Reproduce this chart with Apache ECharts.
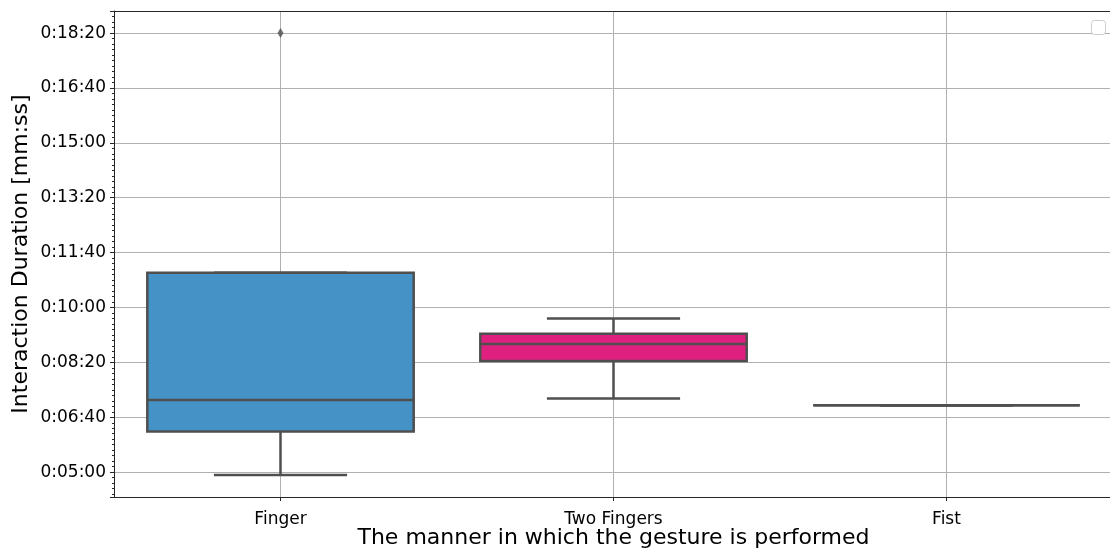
<!DOCTYPE html>
<html>
<head>
<meta charset="utf-8">
<script src="https://cdn.jsdelivr.net/npm/echarts@6/dist/echarts.min.js"></script>
<style>
  html, body { margin: 0; padding: 0; background: #fff; }
  #chart { width: 1110px; height: 550px; }
</style>
</head>
<body>
<div id="chart"></div>
<script>
// categories along the x axis
const categories = ['Finger', 'Two Fingers', 'Fist']
// box stats in seconds: [min, Q1, median, Q3, max]
const fingerStats = [295, 374, 431.5, 663.5, 663.5]
const twoFingersStats = [434, 502.5, 533.5, 552, 580]
const fistStats = [422, 422, 422, 422, 422]
// outliers: [category index, seconds]
const outliers = [[0, 1100]]
const boxColors = ['#4592c6', '#e0207f']
const yTicks = [300, 1100] // 0:05:00 .. 0:18:20

const pad = (n) => String(n).padStart(2, '0')
const fmtTime = (v) => {
  const s = Math.round(v)
  return `${Math.floor(s / 3600)}:${pad(Math.floor((s % 3600) / 60))}:${pad(s % 60)}`
}

const boxData = [fingerStats, twoFingersStats, fistStats].map((s, i) => [i, ...s])
const lineColor = '#4f4f4f'
const spineColor = '#262626'

const chart = echarts.init(document.getElementById('chart'))

// draw one seaborn-like box
const renderBox = (params, api) => {
  const idx = api.value(0)
  const bandW = api.size([1, 0])[0]
  const boxW = bandW * 0.8
  const capW = boxW / 2
  const x = api.coord([idx, 0])[0]
  const yMin = api.coord([idx, api.value(1)])[1]
  const yQ1 = api.coord([idx, api.value(2)])[1]
  const yMed = api.coord([idx, api.value(3)])[1]
  const yQ3 = api.coord([idx, api.value(4)])[1]
  const yMax = api.coord([idx, api.value(5)])[1]
  const fill = boxColors[idx] || 'rgba(0,0,0,0)'
  const stroke = { stroke: lineColor, lineWidth: 2.5 }
  return {
    type: 'group',
    children: [
      { type: 'line', shape: { x1: x, y1: yQ1, x2: x, y2: yMin }, style: stroke },
      { type: 'line', shape: { x1: x, y1: yQ3, x2: x, y2: yMax }, style: stroke },
      { type: 'line', shape: { x1: x - capW / 2, y1: yMin, x2: x + capW / 2, y2: yMin }, style: stroke },
      { type: 'line', shape: { x1: x - capW / 2, y1: yMax, x2: x + capW / 2, y2: yMax }, style: stroke },
      { type: 'rect', shape: { x: x - boxW / 2, y: yQ3, width: boxW, height: yQ1 - yQ3 },
        style: { fill: fill, stroke: lineColor, lineWidth: 2.5 } },
      { type: 'line', shape: { x1: x - boxW / 2, y1: yMed, x2: x + boxW / 2, y2: yMed }, style: stroke }
    ]
  }
}

const option = {
  animation: false,
  backgroundColor: '#fff',
  textStyle: { fontFamily: 'DejaVu Sans' },
  grid: {
    left: 114, right: -3, top: 11, bottom: 53,
    outerBoundsMode: 'none',
    containLabel: false
  },
  xAxis: [
    {
      type: 'category',
      data: categories,
      name: 'The manner in which the gesture is performed',
      nameLocation: 'middle',
      nameGap: 30,
      nameMoveOverlap: false,
      nameTextStyle: { fontSize: 22, color: '#000' },
      axisLine: { show: true, lineStyle: { color: spineColor, width: 1 } },
      axisTick: { show: true, alignWithLabel: true, length: 4, lineStyle: { color: spineColor } },
      axisLabel: { fontSize: 17, color: '#000', margin: 14 },
      splitLine: { show: true, alignWithLabel: true, lineStyle: { color: '#b0b0b0', width: 1 } }
    },
    {
      // top spine only
      type: 'category',
      data: categories,
      position: 'top',
      axisLine: { show: true, lineStyle: { color: spineColor, width: 1 } },
      axisTick: { show: false },
      axisLabel: { show: false },
      splitLine: { show: false }
    }
  ],
  yAxis: {
    type: 'value',
    min: 254.75,
    max: 1140.25,
    splitNumber: 9,
    name: 'Interaction Duration [mm:ss]',
    nameLocation: 'middle',
    nameGap: 82,
    nameMoveOverlap: false,
    nameTextStyle: { fontSize: 22, color: '#000' },
    axisLine: { show: true, lineStyle: { color: spineColor, width: 1 } },
    axisTick: { show: true, length: 4, lineStyle: { color: spineColor } },
    minorTick: { show: true, splitNumber: 10, length: 2, lineStyle: { color: spineColor } },
    axisLabel: {
      fontSize: 17, color: '#000', margin: 8,
      showMinLabel: false, showMaxLabel: false,
      formatter: (v) => (v >= yTicks[0] && v <= yTicks[1] && v % 100 === 0 ? fmtTime(v) : '')
    },
    splitLine: { show: true, lineStyle: { color: '#b0b0b0', width: 1 } }
  },
  graphic: [
    { type: 'rect', left: 1091, top: 20, shape: { width: 14, height: 14, r: 3 },
      style: { fill: '#fff', stroke: '#cccccc', lineWidth: 1 }, z: 100 }
  ],
  series: [
    {
      type: 'custom',
      renderItem: renderBox,
      encode: { x: 0, y: [1, 2, 3, 4, 5] },
      data: boxData,
      z: 3
    },
    {
      type: 'scatter',
      symbol: 'diamond',
      symbolSize: [6, 10],
      itemStyle: { color: lineColor },
      data: outliers,
      z: 4
    }
  ]
}

chart.setOption(option)
</script>
</body>
</html>
